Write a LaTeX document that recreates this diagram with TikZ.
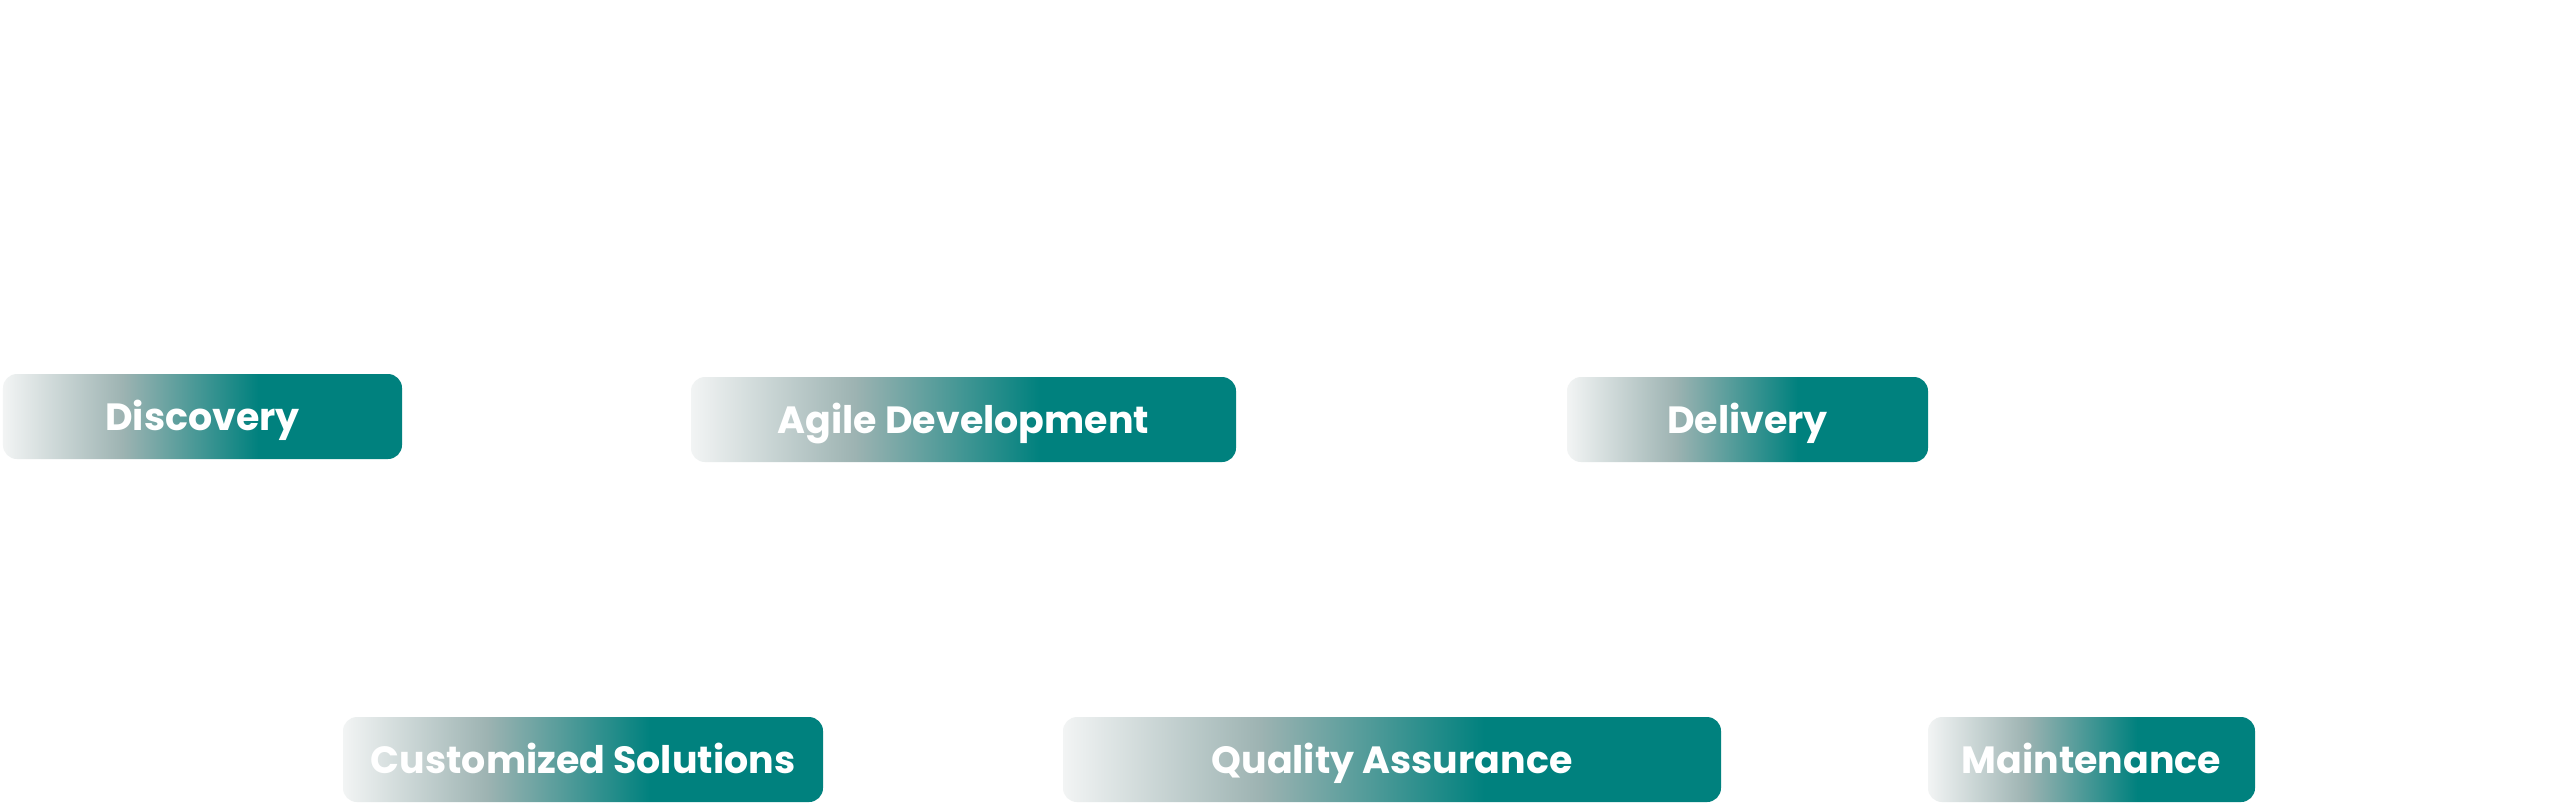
\documentclass[tikz,border=0pt]{standalone}
\usepackage{fontspec}
\setmainfont{Poppins}
\usepackage{tikz}

\definecolor{tealbox}{HTML}{00817E}
\definecolor{fadeleft}{HTML}{F2F4F4}
\definecolor{fademid}{HTML}{9DB3B2}
\pgfdeclarehorizontalshading{tealfade}{100bp}{color(0bp)=(fadeleft); color(25bp)=(fadeleft); color(40bp)=(fademid); color(57bp)=(tealbox); color(100bp)=(tealbox)}

\tikzset{
  phase/.style={shade, shading=tealfade, rounded corners=0.14cm,
    minimum height=0.85cm, inner sep=0pt, text=white,
    text height=0.27cm, text depth=0pt,
    font=\fontsize{10.8}{13}\selectfont\bfseries}
}

\begin{document}
\begin{tikzpicture}
     % page frame
     \useasboundingbox[fill=white] (0,0) rectangle (25.6,-8.04);

     % upper row
     \node[phase, minimum width=3.99cm] (disc)  at (2.025,-4.165) {Discovery};
     \node[phase, minimum width=5.45cm] (agile) at (9.635,-4.195) {Agile Development};
     \node[phase, minimum width=3.61cm] (deliv) at (17.475,-4.195) {Delivery};

     % lower row
     \node[phase, minimum width=4.80cm] (custom) at (5.83,-7.595) {Customized Solutions};
     \node[phase, minimum width=6.58cm] (qa)     at (13.92,-7.595) {Quality Assurance};
     \node[phase, minimum width=3.27cm] (maint)  at (20.915,-7.595) {Maintenance};
\end{tikzpicture}
\end{document}
